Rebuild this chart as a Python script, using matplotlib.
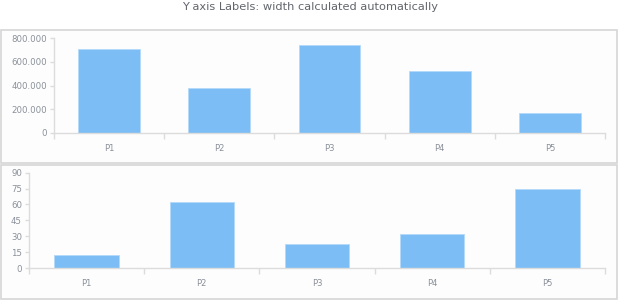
import matplotlib
matplotlib.use("Agg")
import matplotlib.pyplot as plt
from matplotlib.patches import Rectangle
from matplotlib.ticker import FuncFormatter, FixedLocator

categories = ["P1", "P2", "P3", "P4", "P5"]
top_values = [705000, 380000, 745000, 520000, 165000]
bottom_values = [12, 62, 23, 32, 75]
top_ticks = [0, 200000, 400000, 600000, 800000]
bottom_ticks = [0, 15, 30, 45, 60, 75, 90]
title = "Y axis Labels: width calculated automatically"

BAR = "#7cbdf5"
EDGE = "#b3d9fa"
AXIS = "#dcdcdc"
TEXT = "#8a9099"

fig = plt.figure(figsize=(6.2, 3.0), dpi=100)
W, H = 620, 300

def fx(px):
    return px / W

def fy(py):
    return 1 - py / H

# panel frames
for (x0, y0, x1, y1) in [(1, 30, 617, 163), (1, 165, 617, 299)]:
    fig.patches.append(Rectangle((fx(x0), fy(y1)), fx(x1 - x0), (y1 - y0) / H,
                                 transform=fig.transFigure, facecolor="#fdfdfd",
                                 edgecolor="#d6d6d6", linewidth=1.2, zorder=-5))

fig.text(0.5, fy(7), title, ha="center", va="center", fontsize=8.2, color="#62666c")

def make_axes(rect, values, ticks, fmt):
    ax = fig.add_axes(rect)
    ax.set_zorder(2)
    ax.patch.set_alpha(0)
    x = list(range(len(categories)))
    ax.bar(x, values, width=0.56, color=BAR, edgecolor=EDGE, linewidth=0.6, zorder=2)
    ax.set_xlim(-0.5, len(categories) - 0.5)
    ax.set_ylim(ticks[0], ticks[-1])
    for s in ["top", "right"]:
        ax.spines[s].set_visible(False)
    for s in ["left", "bottom"]:
        ax.spines[s].set_color(AXIS)
        ax.spines[s].set_linewidth(1)
    ax.yaxis.set_major_locator(FixedLocator(ticks))
    ax.yaxis.set_major_formatter(FuncFormatter(fmt))
    ax.xaxis.set_major_locator(FixedLocator([i - 0.5 for i in range(len(categories) + 1)]))
    ax.xaxis.set_major_formatter(FuncFormatter(lambda v, p: ""))
    ax.xaxis.set_minor_locator(FixedLocator(x))
    ax.set_xticklabels(categories, minor=True)
    ax.tick_params(axis="x", which="major", length=4, color=AXIS, width=1)
    ax.tick_params(axis="x", which="minor", length=0, pad=8, labelsize=6, labelcolor=TEXT)
    ax.tick_params(axis="y", length=3, color=AXIS, width=1, pad=2, labelsize=6.2, labelcolor=TEXT)
    return ax

make_axes([fx(54), fy(133), fx(605 - 54), (133 - 38) / H], top_values, top_ticks,
          lambda v, p: format(int(v), ",").replace(",", "."))
make_axes([fx(29), fy(268), fx(605 - 29), (268 - 172.7) / H], bottom_values, bottom_ticks,
          lambda v, p: str(int(v)))

fig.savefig("out.png", dpi=100)
